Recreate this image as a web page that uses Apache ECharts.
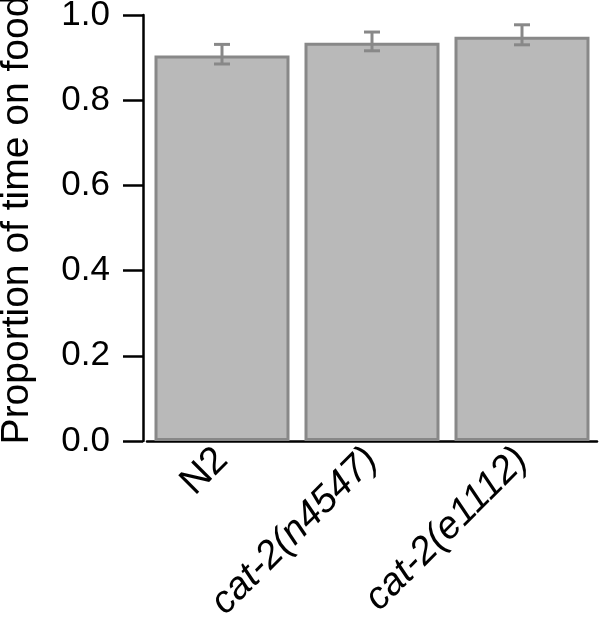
<!DOCTYPE html>
<html><head><meta charset="utf-8">
<script src="https://cdn.jsdelivr.net/npm/echarts@6/dist/echarts.min.js"></script>
<style>html,body{margin:0;padding:0;background:#fff}#c{width:602px;height:619px}</style>
</head><body><div id="c"></div>
<script>
const categories = ['N2', 'cat-2(n4547)', 'cat-2(e1112)'];
const italicCats = [false, true, true];
const means = [0.905, 0.935, 0.949];
const errLow = [0.885, 0.916, 0.930];
const errHigh = [0.931, 0.960, 0.977];
const yTicks = [0, 0.2, 0.4, 0.6, 0.8, 1.0];

const chart = echarts.init(document.getElementById('c'), null, {renderer: 'canvas'});
const font = 'Liberation Sans';
chart.setOption({
  animation: false,
  backgroundColor: '#fff',
  grid: {left: 147, right: 5, top: 15, bottom: 178, containLabel: false, outerBoundsMode: 'none'},
  xAxis: {
    type: 'category',
    data: categories.map((c, i) => ({value: c, textStyle: {fontStyle: italicCats[i] ? 'italic' : 'normal'}})),
    offset: 4,
    axisLine: {lineStyle: {color: '#000', width: 2.5}},
    axisTick: {length: 20, lineStyle: {color: '#000', width: 2.5}},
    axisLabel: {rotate: 45, margin: 9, fontSize: 38.5, color: '#000', fontFamily: font, interval: 0}
  },
  yAxis: {
    type: 'value', min: 0, max: 1, interval: 0.2,
    offset: 4,
    name: 'Proportion of time on food',
    nameLocation: 'middle', nameGap: 106,
    nameTextStyle: {fontSize: 39, color: '#000', fontFamily: font, padding: [0, 0, 0, 16]},
    splitLine: {show: false},
    axisLine: {show: true, lineStyle: {color: '#000', width: 2.5}},
    axisTick: {show: true, length: 20, lineStyle: {color: '#000', width: 2.5}},
    axisLabel: {margin: 33, fontSize: 35, color: '#000', fontFamily: font, formatter: v => v.toFixed(1)}
  },
  series: [{
    type: 'bar',
    data: means,
    barWidth: '90%',
    itemStyle: {color: '#b9b9b9', borderColor: '#888888', borderWidth: 3}
  }, {
    type: 'custom',
    data: categories.map((c, i) => [i, errLow[i], errHigh[i]]),
    renderItem: function (params, api) {
      const x = api.coord([api.value(0), 0])[0];
      const lo = api.coord([api.value(0), api.value(1)])[1];
      const hi = api.coord([api.value(0), api.value(2)])[1];
      const hw = 8;
      const st = {stroke: '#888888', lineWidth: 3};
      return {type: 'group', children: [
        {type: 'line', shape: {x1: x, y1: lo, x2: x, y2: hi}, style: st},
        {type: 'line', shape: {x1: x - hw, y1: lo, x2: x + hw, y2: lo}, style: st},
        {type: 'line', shape: {x1: x - hw, y1: hi, x2: x + hw, y2: hi}, style: st}
      ]};
    },
    z: 5
  }]
});
</script></body></html>
